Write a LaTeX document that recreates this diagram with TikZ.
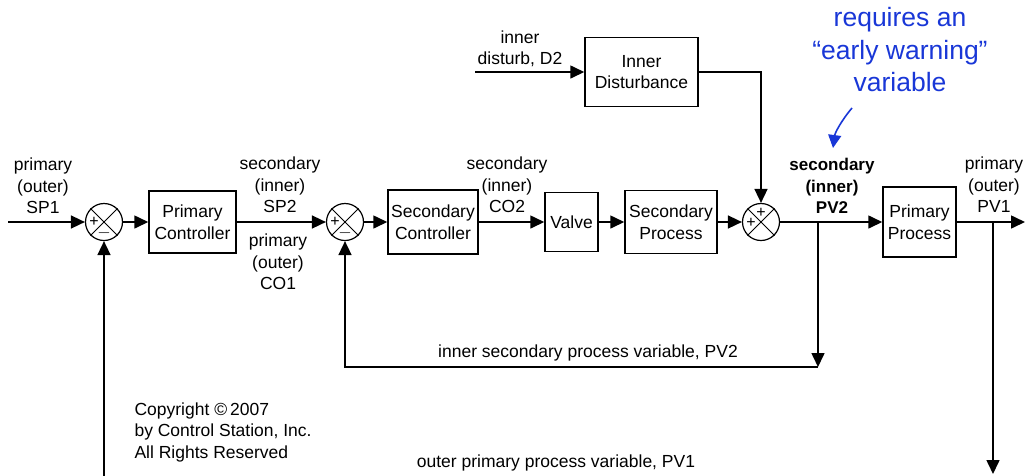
\documentclass[tikz,border=0pt]{standalone}
\usepackage{fontspec}
\setmainfont{Liberation Sans}
\definecolor{noteblue}{RGB}{25,55,215}
\usetikzlibrary{arrows.meta}

\begin{document}
\begin{tikzpicture}[x=1pt,y=-1pt,
    every node/.style={font=\fontsize{17.5}{21.5}\selectfont},
    block/.style={draw,line width=1.5pt,align=center,inner sep=0pt},
    sum/.style={draw,circle,line width=1.2pt,minimum size=37pt,inner sep=0pt},
    lbl/.style={align=center},
    sign/.style={font=\fontsize{16}{16}\selectfont,inner sep=0pt},
    flow/.style={line width=1.6pt,-{Triangle[length=14pt,width=13pt]}}]
    \useasboundingbox (0,0) rectangle (1026,475);
    % summing junctions
    \node[sum] (s1) at (104,222) {};
    \node[sum] (s2) at (345,222) {};
    \node[sum] (s3) at (761,222) {};
    \foreach \s in {s1,s2,s3}
        \draw[line width=1pt] (\s.north west) -- (\s.south east) (\s.north east) -- (\s.south west);
    \node[sign] at ([xshift=-10pt]s1.center) {+};
    \node[sign] at ([yshift=-11pt]s1.center) {$-$};
    \node[sign] at ([xshift=-10pt]s2.center) {+};
    \node[sign] at ([yshift=-11pt]s2.center) {$-$};
    \node[sign] at ([yshift=9pt]s3.center) {+};
    \node[sign] at ([xshift=-10pt,yshift=-1pt]s3.center) {+};
    % blocks
    \node[block,minimum width=87pt,minimum height=62pt] (pc) at (192.5,222) {Primary\\Controller};
    \node[block,minimum width=90pt,minimum height=64pt] (sc) at (433,222) {Secondary\\Controller};
    \node[block,minimum width=53pt,minimum height=59pt] (vl) at (571.5,222) {Valve};
    \node[block,minimum width=92pt,minimum height=63pt] (sp) at (671,222) {Secondary\\Process};
    \node[block,minimum width=73pt,minimum height=70pt] (pp) at (919.5,222) {Primary\\Process};
    \node[block,minimum width=113pt,minimum height=69pt] (id) at (641.5,72) {Inner\\Disturbance};
    % end points
    \coordinate (in1) at (8,222);
    \coordinate (out) at (1025,222);
    \coordinate (d2) at (475,72);
    \coordinate (b2) at (818,222);
    \coordinate (c2) at (818,367);
    \coordinate (b1) at (993,222);
    \coordinate (e1) at (993,474);
    \coordinate (f1) at (104,476);
    \coordinate (w1) at (852,108);
    \coordinate (w2) at (833,148);
    % signals
    \draw[flow] (in1) -- (s1);
    \draw[flow] (s1) -- (pc);
    \draw[flow] (pc) -- (s2);
    \draw[flow] (s2) -- (sc);
    \draw[flow] (sc) -- (vl);
    \draw[flow] (vl) -- (sp);
    \draw[flow] (sp) -- (s3);
    \draw[flow] (s3) -- (pp);
    \draw[flow] (pp) -- (out);
    \draw[flow] (d2) -- (id);
    \draw[flow] (id) -| (s3);
    \draw[flow] (b2) -- (c2);
    \draw[flow] (c2) -| (s2);
    \draw[flow] (b1) -- (e1);
    \draw[flow] (f1) -- (s1);
    \draw[noteblue,line width=1.6pt,-{Triangle[length=13pt,width=13pt]}] (w1) .. controls (841,121) and (835,133) .. (w2);
    % labels
    \node[lbl] (lsp1) at (43,186) {primary\\(outer)\\SP1};
    \node[lbl] (lsp2) at (280,185) {secondary\\(inner)\\SP2};
    \node[lbl] (lco1) at (278,262) {primary\\(outer)\\CO1};
    \node[lbl] (lco2) at (507,185) {secondary\\(inner)\\CO2};
    \node[lbl] (ld2) at (520,49) {inner\\disturb, D2};
    \node[lbl,font=\fontsize{17}{21.5}\selectfont\bfseries] (lpv2) at (832,186) {secondary\\(inner)\\PV2};
    \node[lbl] (lpv1) at (994,185) {primary\\(outer)\\PV1};
    \node[lbl,text=noteblue,font=\fontsize{26.5}{32.5}\selectfont] (note) at (900,50) {requires an\\``early warning''\\variable};
    \node (lfb2) at (588,353) {inner secondary process variable, PV2};
    \node (lfb1) at (556,463) {outer primary process variable, PV1};
    \node[align=left,anchor=west] (copy) at (131,432) {Copyright \textcopyright\,2007\\by Control Station, Inc.\\All Rights Reserved};
\end{tikzpicture}
\end{document}
